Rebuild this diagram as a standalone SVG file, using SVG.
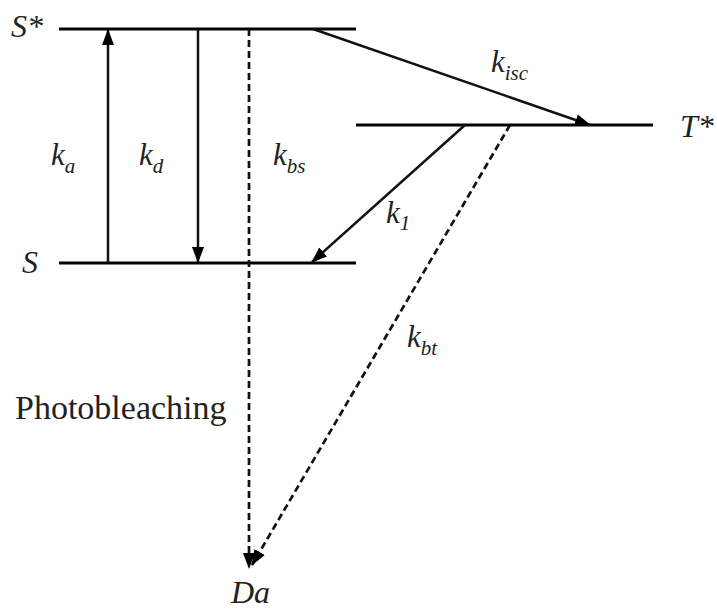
<svg xmlns="http://www.w3.org/2000/svg" width="717" height="613" viewBox="0 0 717 613">
<style>
.lvl{stroke:#000;stroke-width:2.8;fill:none}
.c{stroke:#111;stroke-width:2.5;fill:none;marker-end:url(#ah)}
.d{stroke-dasharray:7 4;stroke-width:2.7}
.t{font-style:italic}
.big{font-size:32px}
.k{font-size:31px}
.sub{font-size:21px}
</style>
<defs>
<marker id="ah" viewBox="0 0 16 12" refX="15" refY="6" markerWidth="16" markerHeight="12" markerUnits="userSpaceOnUse" orient="auto">
<path d="M0,0 L16,6 L0,12 Z" fill="#000"/>
</marker>
</defs>
<g font-family="Liberation Serif, Tinos, Times New Roman, DejaVu Serif, serif" fill="#222">
<g id="S_star"><line class="lvl" x1="59" y1="29" x2="356" y2="29"/><text class="t big" x="11" y="37">S*</text></g>
<g id="S"><line class="lvl" x1="59" y1="263" x2="356" y2="263"/><text class="t big" x="22" y="273">S</text></g>
<g id="T_star"><line class="lvl" x1="356" y1="125" x2="653" y2="125"/><text class="t big" x="680" y="137">T*</text></g>
<g id="Da"><text class="t big" x="231" y="603">Da</text></g>
<g id="connectors">
<line class="c" x1="108" y1="263" x2="108" y2="30"/>
<line class="c" x1="198" y1="29" x2="198" y2="262"/>
<line class="c d" x1="249" y1="29" x2="249" y2="568"/>
<line class="c" x1="313" y1="29" x2="590" y2="125"/>
<line class="c" x1="465" y1="125" x2="312" y2="262"/>
<line class="c d" x1="510" y1="125" x2="252" y2="565"/>
</g>
<g id="labels">
<text class="t k" x="51" y="165">k<tspan class="sub" dy="8">a</tspan></text>
<text class="t k" x="139" y="165">k<tspan class="sub" dy="8">d</tspan></text>
<text class="t k" x="273" y="165">k<tspan class="sub" dy="8">bs</tspan></text>
<text class="t k" x="491" y="72">k<tspan class="sub" dy="8">isc</tspan></text>
<text class="t k" x="386" y="223">k<tspan class="sub" dy="7">1</tspan></text>
<text class="t k" x="407" y="347">k<tspan class="sub" dy="8">bt</tspan></text>
<text x="15" y="419" font-size="34">Photobleaching</text>
</g>
</g>
</svg>
